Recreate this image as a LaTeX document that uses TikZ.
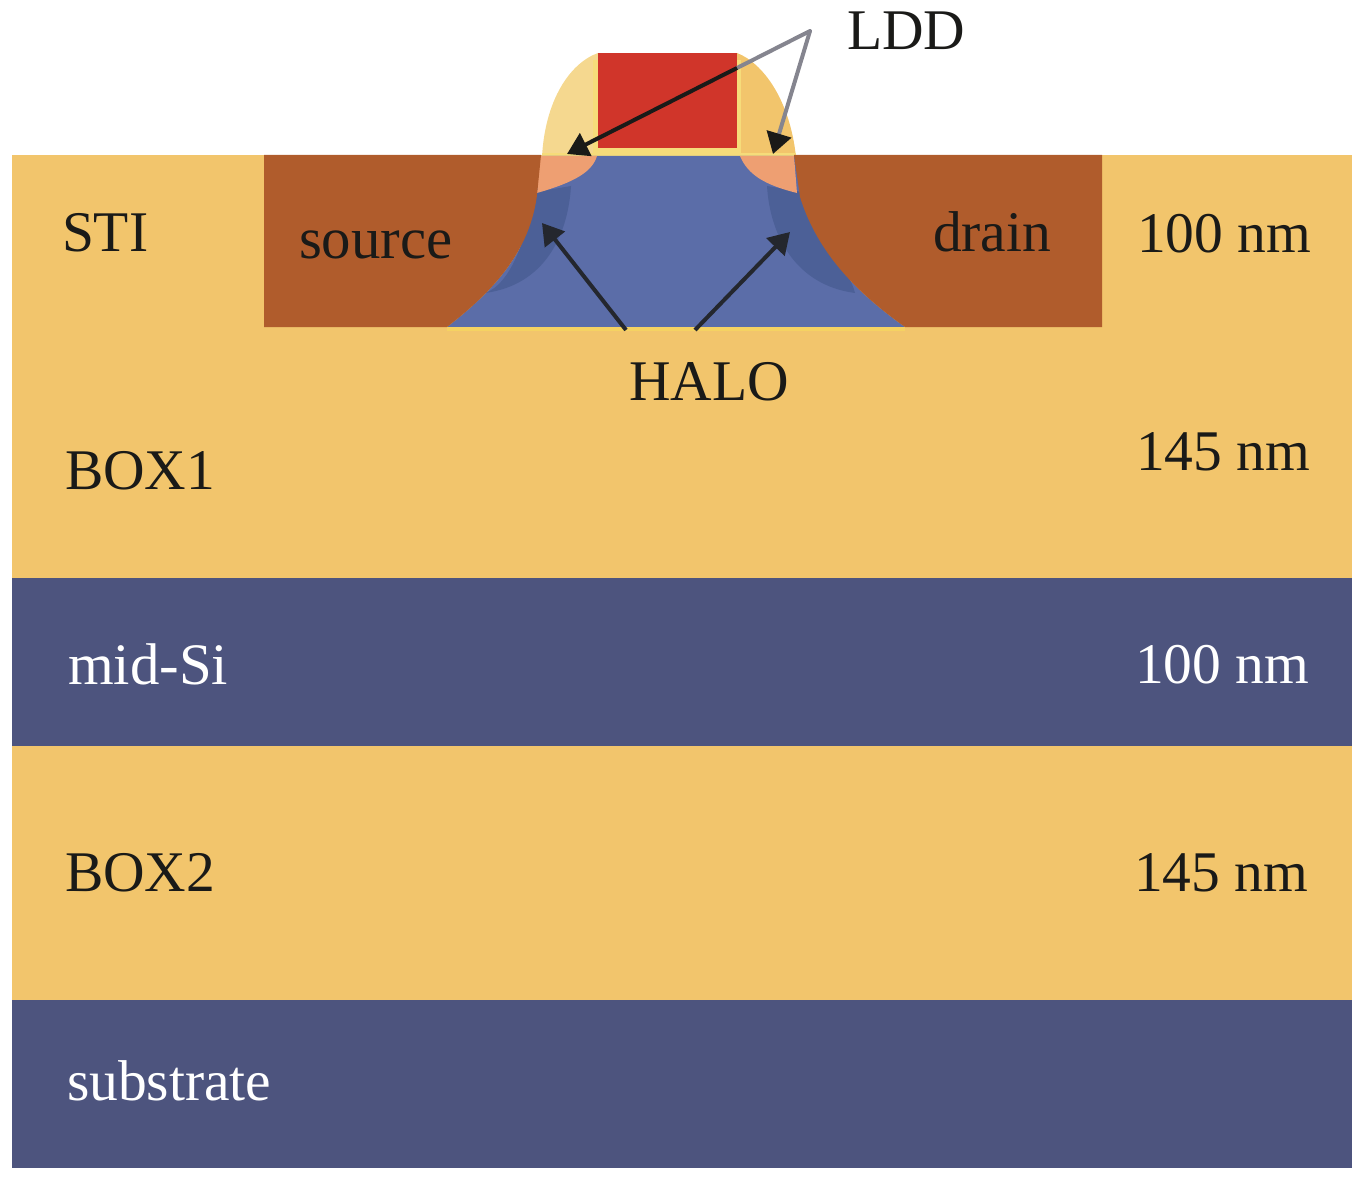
\documentclass[tikz,border=0pt]{standalone}
\usepackage{fontspec}
\setmainfont{Liberation Serif}
\usetikzlibrary{arrows.meta}
\definecolor{oxide}{HTML}{F2C56C}
\definecolor{navy}{HTML}{4D547E}
\definecolor{brownsd}{HTML}{B05C2C}
\definecolor{gatered}{HTML}{D0352A}
\definecolor{channel}{HTML}{5B6DA8}
\definecolor{halodark}{HTML}{4C6097}
\definecolor{lddpink}{HTML}{EE9F72}
\definecolor{spacerL}{HTML}{F5D88F}
\definecolor{edgey}{HTML}{F6DC7A}
\definecolor{edgeb}{HTML}{F5D262}
\definecolor{inkdark}{HTML}{1A1A18}
\definecolor{greyarrow}{HTML}{85858F}
\tikzset{
  lab/.style={anchor=base west,inner sep=0pt,outer sep=0pt,font=\fontsize{57.5}{60}\selectfont,text=inkdark},
  labw/.style={lab,text=white},
  wide/.style={font=\fontsize{58.8}{60}\selectfont},
  ptr/.style={line width=4pt,-{Triangle[length=21pt,width=25pt]}},
}
\begin{document}
\begin{tikzpicture}[x=1pt,y=-1pt]
\useasboundingbox (0,0) rectangle (1365,1198);
% layers
\fill[oxide] (12,155) rectangle (1352,1000);
\fill[navy] (12,578) rectangle (1352,746);
\fill[navy] (12,1000) rectangle (1352,1168);
% spacers
\fill[spacerL] (598,53) .. controls (570,63) and (545,100) .. (542,157) -- (598,157) -- cycle;
\fill[oxide] (737,53) .. controls (763,63) and (790,100) .. (796,157) -- (737,157) -- cycle;
\fill[edgey] (593,60) rectangle (598,155);
\fill[edgey] (737,60) rectangle (741,155);
\fill[edgey] (593,148) rectangle (741,156);
\fill[edgey] (542,153) rectangle (796,156);
% silicon under gate
\fill[channel] (537,156) -- (797,156) -- (800,197) .. controls (818,255) and (860,295) .. (905,327) -- (447,327) .. controls (495,290) and (530,250) .. (537,195) -- cycle;
\fill[edgeb] (447,327) rectangle (905,331);
% halo
\fill[halodark] (530,193) -- (571,186) .. controls (568,235) and (545,285) .. (485,293) .. controls (510,285) and (530,235) .. (530,193) -- cycle;
\fill[halodark] (808,193) -- (767,186) .. controls (770,235) and (795,285) .. (855,293) .. controls (850,270) and (815,235) .. (808,193) -- cycle;
% LDD
\fill[lddpink] (540,156) -- (597,156) .. controls (592,172) and (575,182) .. (537,193) -- cycle;
\fill[lddpink] (740,156) -- (794,156) -- (797,193) .. controls (765,185) and (748,175) .. (740,156) -- cycle;
% source and drain
\fill[brownsd] (264,155) -- (541,155) -- (537,195) .. controls (530,250) and (495,290) .. (447,327) -- (264,327) -- cycle;
\fill[brownsd] (1102,155) -- (794,155) -- (800,197) .. controls (818,255) and (860,295) .. (905,327) -- (1102,327) -- cycle;
% gate
\fill[gatered] (598,53) rectangle (737,148);
% labels
\node[lab] (sti) at (62,252) {STI};
\node[lab] (ldd) at (847,50) {LDD};
\node[lab,wide] (source) at (299,259) {source};
\node[lab] (drain) at (933,252) {drain};
\node[lab] (t1) at (1137,253) {100 nm};
\node[lab] (halo) at (629,400) {HALO};
\node[lab] (box1) at (65,489) {BOX1};
\node[lab] (t2) at (1136,470) {145 nm};
\node[labw,wide] (midsi) at (68,684) {mid-Si};
\node[labw] (t3) at (1135,683) {100 nm};
\node[lab] (box2) at (65,891) {BOX2};
\node[lab] (t4) at (1134,891) {145 nm};
\node[labw] (substrate) at (67,1100) {substrate};
% arrows
\coordinate (apex) at (810,31);
\coordinate (lddL) at (567,154);
\coordinate (lddLm) at (737,68);
\coordinate (lddR) at (773,154);
\coordinate (haloLs) at (626,330);
\coordinate (haloRs) at (695,330);
\coordinate (haloLt) at (542,223);
\coordinate (haloRt) at (790,232);
\draw[line width=4pt,greyarrow,line cap=round] (apex) -- (lddLm);
\draw[ptr,inkdark] (lddLm) -- (lddL);
\draw[ptr,greyarrow,-{Triangle[length=21pt,width=25pt,inkdark]}] (apex) -- (lddR);
\draw[ptr,inkdark!85!channel] (haloLs) -- (haloLt);
\draw[ptr,inkdark!85!channel] (haloRs) -- (haloRt);
\end{tikzpicture}
\end{document}
